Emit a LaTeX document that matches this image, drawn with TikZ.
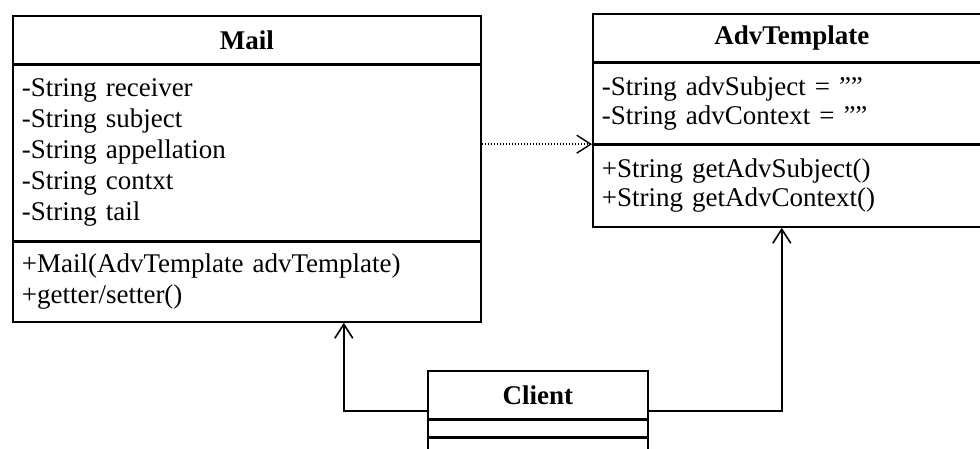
\documentclass[tikz,border=0pt]{standalone}
\usepackage{fontspec}
\setmainfont{Liberation Serif}
\usetikzlibrary{positioning,arrows.meta}

\tikzset{
  umlbox/.style={draw, line width=1.6pt, inner sep=0pt, font=\fontsize{27}{31}\selectfont},
  umlname/.style={umlbox, font=\fontsize{27}{31}\selectfont\bfseries, anchor=north west, minimum height=48pt},
  umlpart/.style={umlbox, align=left, inner xsep=9pt, text width=#1},
  assoc/.style={line width=1.6pt, -{Straight Barb[length=14pt,width=18pt]}},
  depend/.style={assoc, line width=1.4pt, dash pattern=on 1.6pt off 1.4pt}
}

\begin{document}
\begin{tikzpicture}[x=1pt, y=1pt]
\useasboundingbox (0,0) rectangle (980,449);
\clip (0,0) rectangle (980,449);

% Mail
\node[umlname, minimum width=468pt] (mail) at (12,434) {Mail};
\node[umlpart=450pt, minimum height=175pt, below=0pt of mail] (mailattrs)
  {-String receiver\\-String subject\\-String appellation\\-String contxt\\-String tail};
\node[umlpart=450pt, minimum height=80pt, below=0pt of mailattrs] (mailops)
  {+Mail(AdvTemplate advTemplate)\\+getter/setter()};

% AdvTemplate
\node[umlname, minimum width=398pt] (adv) at (592,436) {AdvTemplate};
\node[umlpart=380pt, minimum height=80pt, below=0pt of adv, font=\fontsize{27}{29}\selectfont] (advattrs)
  {-String advSubject = ""\\-String advContext = ""};
\node[umlpart=380pt, minimum height=82pt, below=0pt of advattrs, font=\fontsize{27}{29}\selectfont] (advops)
  {+String getAdvSubject()\\+String getAdvContext()};

% Client
\node[umlname, minimum width=220pt] (client) at (427,79) {Client};
\node[umlpart=202pt, minimum height=16pt, below=0pt of client] (clientattrs) {};
\node[umlpart=202pt, minimum height=40pt, below=0pt of clientattrs] (clientops) {};

\draw[depend] (mailattrs.east |- advattrs.south) -- (advattrs.south west);
\draw[assoc] ([yshift=-16.5pt]client.west) -| ([xshift=97pt]mailops.south);
\draw[assoc] ([yshift=-16.5pt]client.east) -| ([xshift=-10pt]advops.south);
\end{tikzpicture}
\end{document}
